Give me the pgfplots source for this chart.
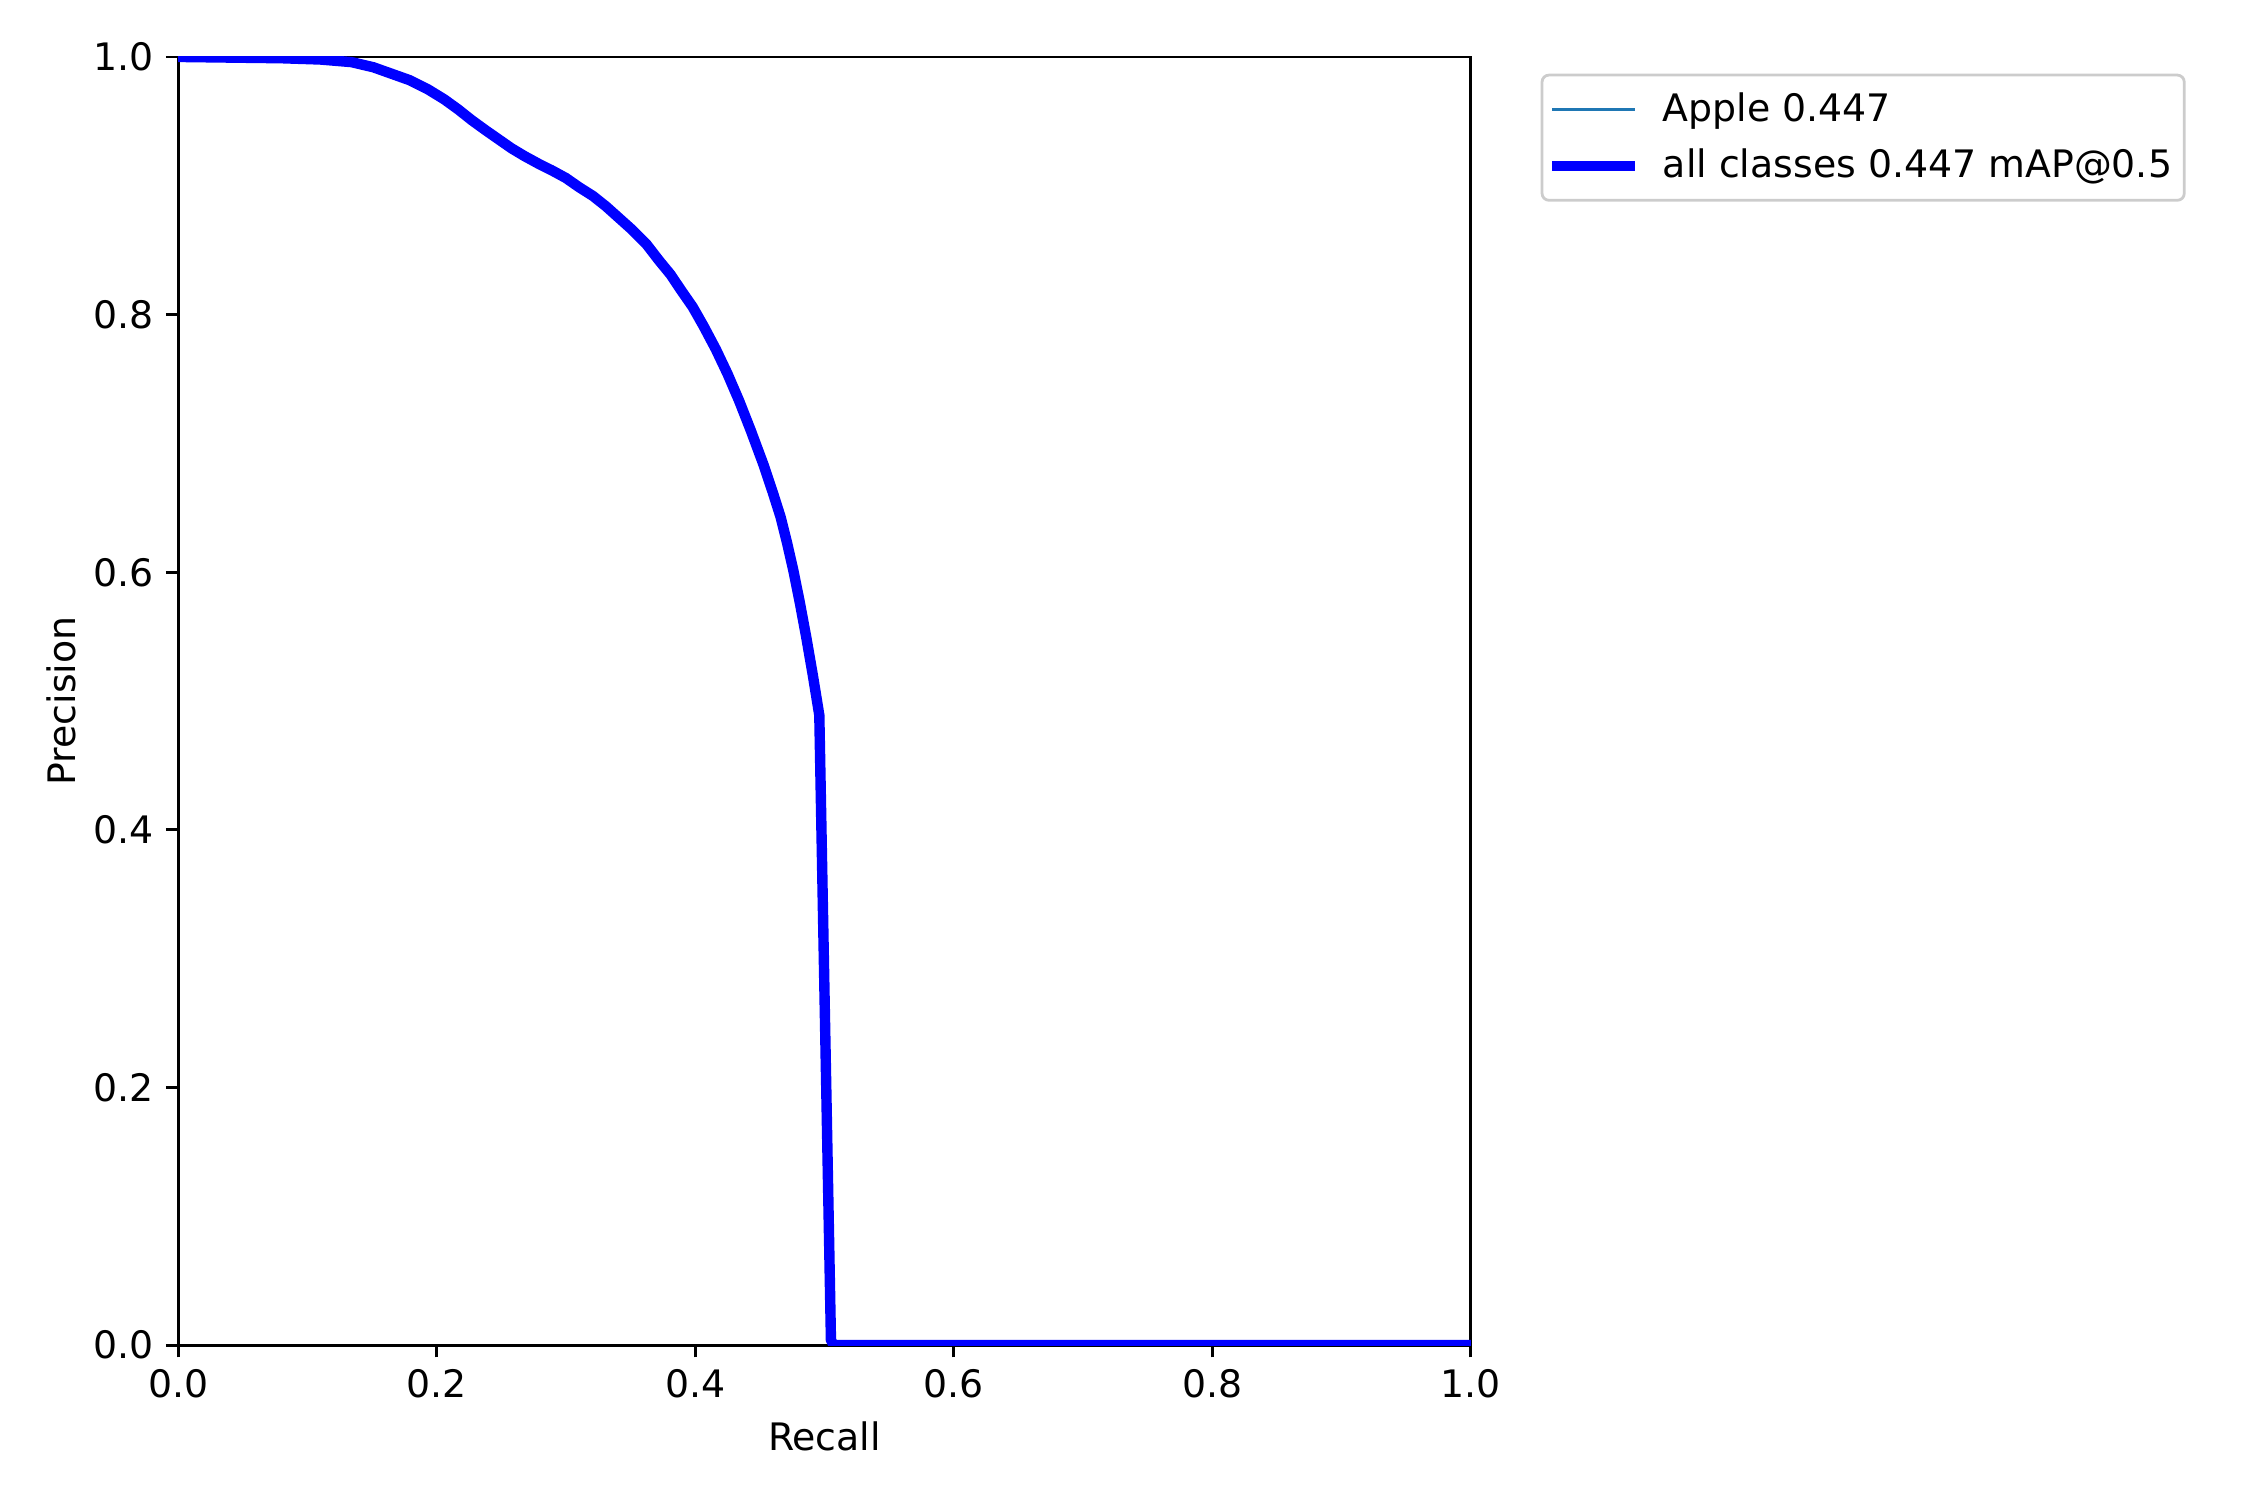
\documentclass[border=0pt]{standalone}
\usepackage{pgfplots}
\pgfplotsset{compat=1.18}
\usepackage{fontspec}
\setmainfont{DejaVu Sans}
\definecolor{tabblue}{RGB}{31,119,180}
\definecolor{pureblue}{RGB}{0,0,255}
\definecolor{leggray}{RGB}{204,204,204}
\pgfplotstableread{
x y
0.000 1.000
0.080 0.999
0.110 0.998
0.134 0.996
0.151 0.992
0.165 0.987
0.179 0.982
0.193 0.975
0.206 0.967
0.217 0.959
0.227 0.951
0.238 0.943
0.248 0.936
0.258 0.929
0.268 0.923
0.279 0.917
0.289 0.912
0.300 0.906
0.310 0.899
0.321 0.892
0.331 0.884
0.341 0.875
0.351 0.866
0.362 0.855
0.372 0.842
0.381 0.831
0.389 0.819
0.398 0.806
0.4065 0.791
0.416 0.773
0.425 0.754
0.434 0.733
0.443 0.710
0.453 0.683
0.460 0.662
0.466 0.643
0.471 0.623
0.476 0.601
0.481 0.576
0.486 0.549
0.491 0.520
0.496 0.489
0.505 0.004
0.507 0.000
1.000 0.000
}\prdata
\begin{document}
\begin{tikzpicture}
\path[use as bounding box] (0pt,0pt) rectangle (648pt,432pt);
\begin{axis}[
  at={(51.3pt,44.6pt)}, anchor=south west,
  scale only axis, width=372.3pt, height=371pt,
  xmin=0, xmax=1, ymin=0, ymax=1,
  xtick={0,0.2,0.4,0.6,0.8,1.0},
  ytick={0,0.2,0.4,0.6,0.8,1.0},
  xtick pos=bottom, ytick pos=left,
  tick align=outside,
  major tick length=3.5pt,
  every tick/.style={black, line width=0.8pt},
  axis line style={line width=0.8pt},
  /pgf/number format/assume math mode=true,
  /pgf/number format/.cd, fixed, fixed zerofill, precision=1, /pgfplots/.cd,
  ticklabel style={font=\fontsize{10.9}{13}\selectfont},
  label style={font=\fontsize{10.9}{13}\selectfont},
  xlabel={Recall}, ylabel={Precision},
  ylabel style={xshift=0pt, yshift=-1.7pt},
  legend cell align=left,
  legend style={at={(1.054,0.987)}, anchor=north west, draw=leggray, line width=0.8pt, rounded corners=2pt,
    font=\fontsize{10.9}{13}\selectfont, inner xsep=1.5pt, inner ysep=3pt, row sep=2.5pt},
  legend image code/.code={\draw[#1] (0pt,0pt) -- (23.7pt,0pt); \path (28.3pt,0pt);},
]
\addplot[tabblue, line width=1pt] table[x=x,y=y] {\prdata};
\addlegendentry{Apple 0.447}
\addplot[pureblue, line width=3pt] table[x=x,y=y] {\prdata};
\addlegendentry{all classes 0.447 mAP@0.5}
\end{axis}
\end{tikzpicture}
\end{document}
